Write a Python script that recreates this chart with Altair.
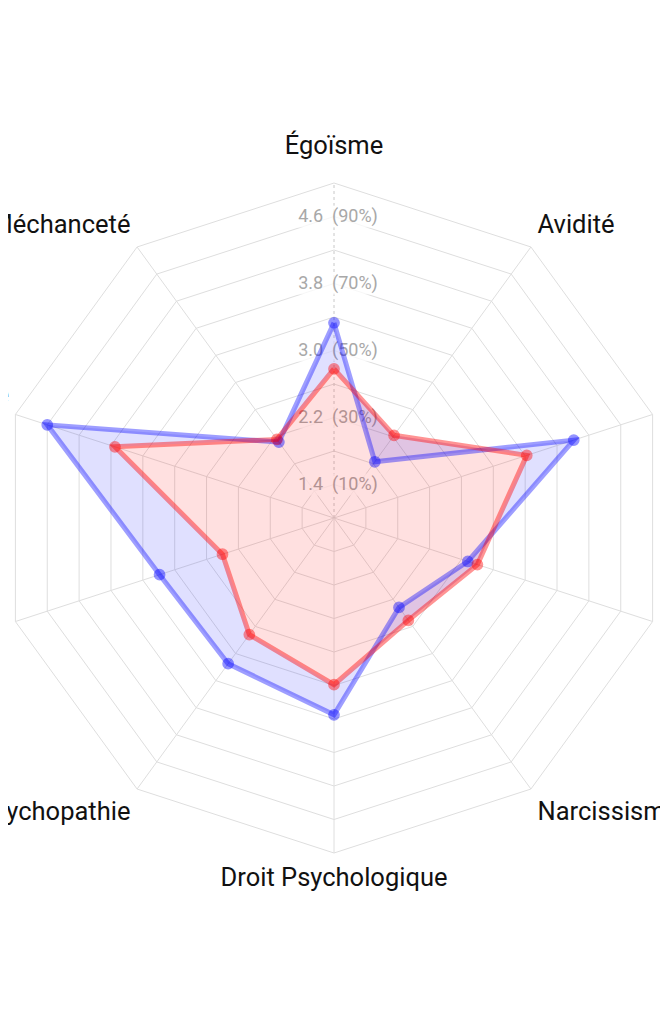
import math
import altair as alt
import pandas as pd

# ---------------- data ----------------
categories = ["Égoïsme", "Avidité", "Machiavélisme", "Désengagement\nMoral", "Narcissisme",
              "Droit Psychologique", "Psychopathie", "Sadisme", "Intérêt Propre", "Méchanceté"]
series_blue = [3.33, 1.83, 4.01, 2.68, 2.32, 3.35, 3.15, 3.19, 4.60, 2.12]
series_red = [2.78, 2.22, 3.42, 2.80, 2.51, 2.99, 2.72, 2.40, 3.75, 2.16]
ring_values = [1.4, 1.8, 2.2, 2.6, 3.0, 3.4, 3.8, 4.2, 4.6, 5.0]
tick_values = [1.4, 2.2, 3.0, 3.8, 4.6]
tick_labels = ["1.4\u00a0\u00a0(10%)", "2.2\u00a0\u00a0(30%)", "3.0\u00a0\u00a0(50%)",
               "3.8\u00a0\u00a0(70%)", "4.6\u00a0\u00a0(90%)"]
scale_min, scale_max = 1.0, 5.0

N = len(categories)

# ---------------- layout ----------------
W, H = 652, 1000
CX, CY = 326, 510           # centre of the radar inside the view
R_PX = 335                  # radius of the outer ring in pixels
UPX = R_PX / (scale_max - scale_min)
xs = alt.Scale(domain=[-CX / UPX, (W - CX) / UPX], nice=False, zero=False)
ys = alt.Scale(domain=[-(H - CY) / UPX, CY / UPX], nice=False, zero=False)

calc_x = f"(datum.v - {scale_min}) * sin(2 * PI * datum.k / {N})"
calc_y = f"(datum.v - {scale_min}) * cos(2 * PI * datum.k / {N})"


def xy(ch):
    return ch.transform_calculate(px=calc_x, py=calc_y).encode(
        x=alt.X("px:Q", scale=xs, axis=None),
        y=alt.Y("py:Q", scale=ys, axis=None),
    )


# rings
ring_rows = [{"ring": r, "k": k, "o": k, "v": r} for r in ring_values for k in range(N + 1)]
rings = xy(alt.Chart(pd.DataFrame(ring_rows)).mark_line(color="#dedede", strokeWidth=1)).encode(
    detail="ring:N", order="o:Q")

# spokes
spoke_rows = [{"k": k, "o": j, "v": v} for k in range(1, N) for j, v in enumerate([scale_min, scale_max])]
spokes = xy(alt.Chart(pd.DataFrame(spoke_rows)).mark_line(color="#dedede", strokeWidth=1)).encode(
    detail="k:N", order="o:Q")
top_rows = [{"k": 0, "o": j, "v": v} for j, v in enumerate([scale_min, scale_max])]
top_spoke = xy(alt.Chart(pd.DataFrame(top_rows)).mark_line(
    color="#c8c8c8", strokeWidth=1, strokeDash=[3, 3])).encode(order="o:Q")

# tick labels with backdrop
tick_df = pd.DataFrame({"v": tick_values, "k": [0] * len(tick_values), "t": tick_labels})
backdrop = xy(alt.Chart(tick_df).mark_rect(width=86, height=22, color="white", opacity=0.75, xOffset=4))
ticks = xy(alt.Chart(tick_df).mark_text(
    font="Roboto", fontSize=18, color="#a8a8a8", baseline="middle", align="center", dx=4)).encode(text="t:N")

# red polygon
red_rows = [{"k": k, "o": k, "v": series_red[k % N]} for k in range(N + 1)]
red_df = pd.DataFrame(red_rows)
red_fill = xy(alt.Chart(red_df).mark_line(fill="#ff0000", fillOpacity=0.12, strokeWidth=0)).encode(order="o:Q")
red_line = xy(alt.Chart(red_df).mark_line(color="#ff0000", opacity=0.42, strokeWidth=5)).encode(order="o:Q")
red_pts = xy(alt.Chart(red_df[red_df.k < N]).mark_circle(
    size=105, color="#ff0000", opacity=0.42, stroke="#ff0000", strokeWidth=1.5))

# blue: filled between blue and red outlines
quad_rows = []
for i in range(N):
    j = (i + 1) % N
    quad_rows += [
        {"q": i, "o": 0, "k": i, "v": series_blue[i]},
        {"q": i, "o": 1, "k": i + 1, "v": series_blue[j]},
        {"q": i, "o": 2, "k": i + 1, "v": series_red[j]},
        {"q": i, "o": 3, "k": i, "v": series_red[i]},
    ]
blue_fill = xy(alt.Chart(pd.DataFrame(quad_rows)).mark_line(
    fill="#0000ff", fillOpacity=0.12, strokeWidth=0)).encode(detail="q:N", order="o:Q")
blue_rows = [{"k": k, "o": k, "v": series_blue[k % N]} for k in range(N + 1)]
blue_df = pd.DataFrame(blue_rows)
blue_line = xy(alt.Chart(blue_df).mark_line(color="#0000ff", opacity=0.38, strokeWidth=5)).encode(order="o:Q")
blue_pts = xy(alt.Chart(blue_df[blue_df.k < N]).mark_circle(
    size=105, color="#0000ff", opacity=0.42, stroke="#0000ff", strokeWidth=1.5))

# category labels
LABEL_V = scale_max + 13 / UPX
lab_df = pd.DataFrame({"k": list(range(N)), "t": categories, "v": [LABEL_V] * N})
lab_style = [
    ("center", 0, -16), ("left", -1, -3.5), ("left", -2, -7.5), ("left", -2, 22.5), ("left", -1, 20.5),
    ("center", 0, 19.5), ("right", 1, 20.5), ("right", 0, 22.5), ("right", 6, -7.5), ("right", 1, -3.5),
]
labels = []
for i, (al, dx, dy) in enumerate(lab_style):
    labels.append(xy(alt.Chart(lab_df).transform_filter(f"datum.k == {i}").mark_text(
        font="Roboto", fontSize=25.5, color="#111111", align=al, baseline="alphabetic",
        dx=dx, dy=dy, lineBreak="\n", lineHeight=30)).encode(text="t:N"))

chart = alt.layer(
    rings, spokes, top_spoke, backdrop, ticks,
    red_fill, blue_fill, blue_line, blue_pts, red_line, red_pts,
    *labels,
).properties(
    width=W, height=H, autosize=alt.AutoSizeParams(type="none"), padding=0, background="white"
).configure_view(stroke=None)

chart.save("out.html", embed_options={"renderer": "svg", "actions": False})
